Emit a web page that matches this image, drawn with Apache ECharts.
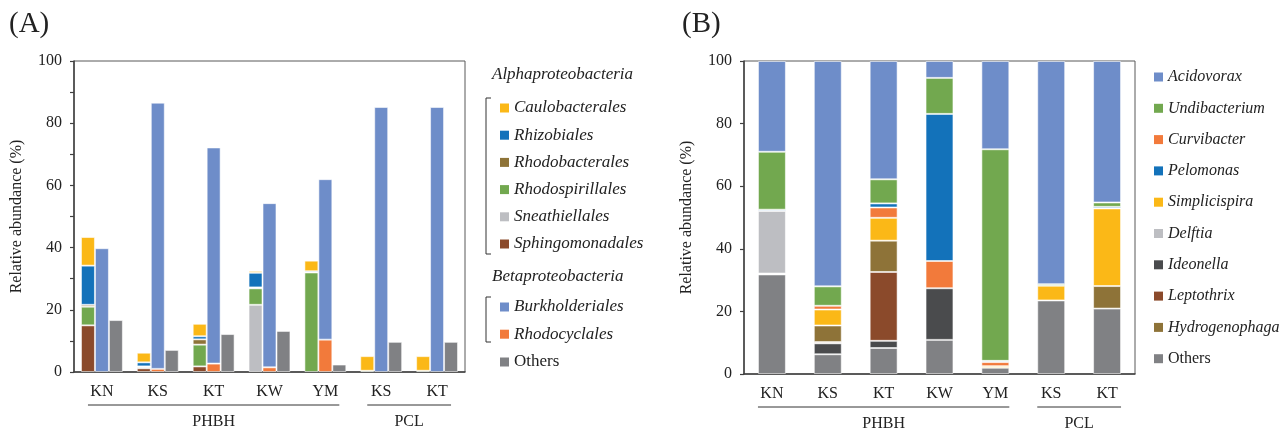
<!DOCTYPE html>
<html><head><meta charset="utf-8">
<script src="https://cdn.jsdelivr.net/npm/echarts@6/dist/echarts.min.js"></script>
<style>html,body{margin:0;padding:0;background:#fff}#c{width:1287px;height:430px}</style>
</head><body><div id="c"></div>
<script>
// ---------- data ----------
const samples = ['KN', 'KS', 'KT', 'KW', 'YM', 'KS', 'KT'];
const groupNames = ['PHBH', 'PCL'];
const groupRanges = [[0, 4], [5, 6]];
const yTicksA = [0, 20, 40, 60, 80, 100];

// Panel A (order level), stacked bottom -> top
const Sphingomonadales = [15.0, 1.2, 1.8, 0, 0, 0, 0];
const Sneathiellales   = [0, 0, 0, 21.6, 0, 0, 0];
const Rhodospirillales = [6.0, 0.4, 7.0, 5.3, 32.0, 0.4, 0.4];
const Rhodobacterales  = [0.6, 0.2, 1.7, 0.3, 0, 0, 0];
const Rhizobiales      = [12.6, 1.3, 1.0, 4.7, 0.4, 0, 0];
const Caulobacterales  = [9.2, 3.1, 4.0, 0.6, 3.4, 4.7, 4.7];
const Rhodocyclales    = [0, 1.0, 2.7, 1.5, 10.4, 0, 0];
const Burkholderiales  = [39.8, 85.6, 69.5, 52.8, 51.6, 85.2, 85.2];
const OthersA          = [16.7, 7.1, 12.2, 13.2, 2.4, 9.7, 9.7];

// Panel B (genus level), stacked bottom -> top
const OthersB        = [31.8, 6.3, 8.3, 10.9, 2.0, 23.5, 20.9];
const Ideonella      = [0, 3.5, 2.3, 16.5, 0, 0, 0];
const Leptothrix     = [0, 0.4, 22.0, 0, 0, 0, 0];
const Hydrogenophaga = [0, 5.3, 10.0, 0, 0, 0, 7.2];
const Simplicispira  = [0, 5.1, 7.3, 0, 0.5, 4.7, 24.8];
const Curvibacter    = [0.3, 1.2, 3.3, 8.7, 1.3, 0, 0];
const Delftia        = [20.0, 0, 0, 0, 0, 0, 0];
const Pelomonas      = [0.4, 0, 1.3, 47.0, 0.4, 0, 0.5];
const Undibacterium  = [18.5, 6.2, 7.7, 11.5, 67.6, 0.5, 1.4];
const Acidovorax     = [29.0, 72.0, 37.8, 5.4, 28.2, 71.3, 45.2];

const alphaLegend = ['Caulobacterales', 'Rhizobiales', 'Rhodobacterales', 'Rhodospirillales', 'Sneathiellales', 'Sphingomonadales'];
const betaLegend = ['Burkholderiales', 'Rhodocyclales'];
const genusLegend = ['Acidovorax', 'Undibacterium', 'Curvibacter', 'Pelomonas', 'Simplicispira', 'Delftia', 'Ideonella', 'Leptothrix', 'Hydrogenophaga', 'Others'];

// ---------- styles ----------
const C = {
  blueL: '#6e8dc9', green: '#72a84f', orange: '#f27a3b', blueD: '#1372ba',
  yellow: '#fbb817', grayL: '#bdbec2', grayD: '#4a4b4d', brown: '#8b4a2b',
  olive: '#8e7338', gray: '#808184'
};
const FONT = '"Liberation Serif", "Times New Roman", serif';
const TXT = '#222';
const AX = '#404040';

function bar(name, data, color, stack, xi) {
  return {
    type: 'bar', name, stack, xAxisIndex: xi, yAxisIndex: xi,
    data: data.map(v => v === 0 ? null : v),
    barGap: '0%', barCategoryGap: xi === 0 ? '25%' : '50%',
    itemStyle: { color, borderColor: 'rgba(255,255,255,0.55)', borderWidth: 1 },
    emphasis: { disabled: true }, animation: false
  };
}

const series = [
  bar('Sphingomonadales', Sphingomonadales, C.brown, 'alpha', 0),
  bar('Sneathiellales', Sneathiellales, C.grayL, 'alpha', 0),
  bar('Rhodospirillales', Rhodospirillales, C.green, 'alpha', 0),
  bar('Rhodobacterales', Rhodobacterales, C.olive, 'alpha', 0),
  bar('Rhizobiales', Rhizobiales, C.blueD, 'alpha', 0),
  bar('Caulobacterales', Caulobacterales, C.yellow, 'alpha', 0),
  bar('Rhodocyclales', Rhodocyclales, C.orange, 'beta', 0),
  bar('Burkholderiales', Burkholderiales, C.blueL, 'beta', 0),
  bar('Others', OthersA, C.gray, 'other', 0),

  bar('Others', OthersB, C.gray, 'genus', 1),
  bar('Ideonella', Ideonella, C.grayD, 'genus', 1),
  bar('Leptothrix', Leptothrix, C.brown, 'genus', 1),
  bar('Hydrogenophaga', Hydrogenophaga, C.olive, 'genus', 1),
  bar('Simplicispira', Simplicispira, C.yellow, 'genus', 1),
  bar('Curvibacter', Curvibacter, C.orange, 'genus', 1),
  bar('Delftia', Delftia, C.grayL, 'genus', 1),
  bar('Pelomonas', Pelomonas, C.blueD, 'genus', 1),
  bar('Undibacterium', Undibacterium, C.green, 'genus', 1),
  bar('Acidovorax', Acidovorax, C.blueL, 'genus', 1)
];

function xAxis(gi) {
  return {
    type: 'category', gridIndex: gi, data: samples,
    axisLine: { show: true, lineStyle: { color: AX, width: 1.5 } },
    axisTick: { show: false },
    axisLabel: { margin: 12, fontFamily: FONT, fontSize: 16, color: TXT }
  };
}
function yAxis(gi, interval) {
  return {
    type: 'value', gridIndex: gi, min: 0, max: 100, interval,
    name: 'Relative abundance (%)', nameLocation: 'middle', nameGap: 49,
    nameTextStyle: { fontFamily: FONT, fontSize: 16, color: TXT },
    axisLine: { show: true, lineStyle: { color: AX, width: 1.5 } },
    axisTick: { show: true, length: 4, inside: false, lineStyle: { color: AX, width: 1.2 } },
    axisLabel: { margin: 12, fontFamily: FONT, fontSize: 16, color: TXT,
      formatter: v => (yTicksA.indexOf(v) >= 0 ? String(v) : '') },
    splitLine: { show: false }
  };
}
function legend(data, left, top, gap, fontSize) {
  return {
    orient: 'vertical', left, top, itemGap: gap, itemWidth: 9, itemHeight: 9, icon: 'rect',
    selectedMode: false, padding: 0,
    itemStyle: { borderWidth: 0 },
    textStyle: { fontFamily: FONT, fontSize, fontStyle: 'italic', color: TXT, lineHeight: 18 },
    data: data.map(n => n === 'Others' ? { name: n, textStyle: { fontStyle: 'normal' } } : n)
  };
}

const chart = echarts.init(document.getElementById('c'), null, { renderer: 'canvas' });
chart.setOption({
  animation: false,
  backgroundColor: '#fff',
  grid: [
    { left: 74, top: 61, width: 391, height: 311, show: true, borderColor: '#595959', borderWidth: 1, containLabel: false },
    { left: 744, top: 61, width: 391, height: 313, show: true, borderColor: '#595959', borderWidth: 1, containLabel: false }
  ],
  xAxis: [xAxis(0), xAxis(1)],
  yAxis: [yAxis(0, 10), yAxis(1, 20)],
  legend: [
    legend(alphaLegend, 500, 99, 9.2, 17),
    legend(betaLegend, 500, 298, 9.2, 17),
    legend(['Others'], 500, 353, 9.2, 17),
    legend(genusLegend, 1154, 68, 13.3, 16)
  ],
  series
});

// ---------- decorations (group lines, labels, headers) ----------
const g = [];
const textStyle = (extra) => Object.assign({ fontFamily: FONT, fontSize: 16, fill: TXT }, extra);
g.push({ type: 'text', x: 9, y: 24, style: textStyle({ text: '(A)', fontSize: 29, verticalAlign: 'middle' }) });
g.push({ type: 'text', x: 682, y: 24, style: textStyle({ text: '(B)', fontSize: 29, verticalAlign: 'middle' }) });
g.push({ type: 'text', x: 492, y: 75, style: textStyle({ text: 'Alphaproteobacteria', fontSize: 17, fontStyle: 'italic', verticalAlign: 'middle' }) });
g.push({ type: 'text', x: 492, y: 277, style: textStyle({ text: 'Betaproteobacteria', fontSize: 17, fontStyle: 'italic', verticalAlign: 'middle' }) });
g.push({ type: 'polyline', shape: { points: [[491, 98], [486, 98], [486, 254], [491, 254]] }, style: { stroke: '#333', lineWidth: 1, fill: null } });
g.push({ type: 'polyline', shape: { points: [[491, 297], [486, 297], [486, 342], [491, 342]] }, style: { stroke: '#333', lineWidth: 1, fill: null } });

[0, 1].forEach(gi => {
  const cx = i => chart.convertToPixel({ xAxisIndex: gi }, i);
  const band = cx(1) - cx(0);
  const y0 = chart.convertToPixel({ yAxisIndex: gi }, 0);
  groupRanges.forEach((r, k) => {
    const x1 = cx(r[0]) - band / 4, x2 = cx(r[1]) + band / 4;
    g.push({ type: 'line', shape: { x1, y1: y0 + 33, x2, y2: y0 + 33 }, style: { stroke: '#333', lineWidth: 1 } });
    g.push({ type: 'text', x: (x1 + x2) / 2, y: y0 + 50, style: textStyle({ text: groupNames[k], align: 'center', verticalAlign: 'middle' }) });
  });
});
chart.setOption({ graphic: g });
</script></body></html>
